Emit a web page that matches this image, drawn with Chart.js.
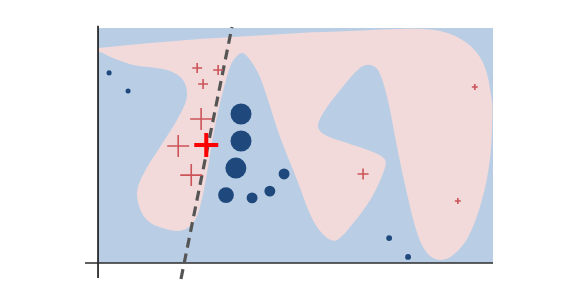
<!DOCTYPE html>
<html lang="en">

<head>
  <meta charset="UTF-8">
  <script src="https://cdn.jsdelivr.net/npm/chart.js"></script>
  <title>decision boundary</title>
  <style>
    body {
      margin: 0;
      background: #fff;
    }
  </style>
</head>

<body>
  <canvas id="myChart" width="562" height="282"></canvas>

  <script>
    // region of the class "+" (closed outline, data units 0..100)
    const regionX = [0, 13.2, 25.8, 38.5, 51.1, 63.8, 76.5, 86.6, 93.4, 97.5, 99.6, 99.8, 99.2, 97.2, 93.7, 89.9,
      86.6, 83.3, 80.8, 78.2, 75.7, 73.2, 70.9, 68.9, 66.3, 61.3, 57.0, 55.7, 57.5, 63.0, 69.6, 72.7, 72.2, 68.9,
      64.6, 60.5, 58.0, 54.4, 50.4, 46.1, 41.0, 38.5, 36.5, 34.7, 33.4, 30.9, 29.1, 27.6, 25.8, 24.1, 21.5, 18.2,
      12.4, 9.9, 11.1, 15.7, 20.0, 22.5, 21.5, 17.5, 8.9, 3.8, 0.5, 0];
    const regionY = [91.5, 93.6, 95.3, 96.6, 97.9, 98.7, 99.6, 98.7, 93.6, 85.1, 70.6, 60.9, 43.8, 26.8, 11.1, 3.4,
      1.3, 4.3, 12.8, 29.8, 49.4, 70.6, 82.1, 84.3, 83.0, 73.6, 63.8, 57.9, 54.5, 51.1, 47.2, 43.8, 38.3, 26.8,
      17.0, 9.8, 10.6, 18.3, 35.3, 53.6, 79.1, 86.4, 89.4, 87.2, 83.4, 68.1, 53.6, 38.3, 23.8, 17.0, 14.0, 14.0,
      18.3, 28.1, 36.6, 49.4, 60.9, 70.6, 77.9, 82.1, 84.3, 87.2, 89.8, 89.2];

    // class "o" points and their weights
    const blueX = [2.8, 7.6, 36.2, 36.2, 34.9, 32.4, 39.0, 43.5, 47.1, 73.7, 78.5];
    const blueY = [80.9, 73.2, 63.4, 51.9, 40.4, 28.9, 27.7, 30.6, 37.9, 10.6, 2.6];
    const blueW = [0.24, 0.24, 1, 1, 1, 0.75, 0.52, 0.52, 0.52, 0.28, 0.28];

    // class "+" points and their weights
    const redX = [25.1, 30.4, 26.6, 26.1, 20.3, 23.6, 67.1, 95.4, 91.1];
    const redY = [83.0, 82.1, 76.2, 61.3, 49.8, 37.4, 37.9, 74.9, 26.4];
    const redW = [0.45, 0.45, 0.45, 1, 1, 1, 0.5, 0.27, 0.27];

    // the highlighted point
    const hiX = [27.4];
    const hiY = [50.2];

    // separating line
    const lineX = [21.0, 33.9];
    const lineY = [-6.8, 100.4];

    // axes
    const axisX = [-3.3, 100];
    const axisY = [-6.4, 101];

    const pts = (xs, ys) => xs.map((x, i) => ({ x: x, y: ys[i] }));

    const ctx = document.getElementById('myChart').getContext('2d');
    const myChart = new Chart(ctx, {
      type: 'scatter',
      data: {
        datasets: [
          {
            data: pts(hiX, hiY),
            pointStyle: 'cross',
            pointRadius: 12,
            pointBorderWidth: 4,
            borderColor: '#ff0000',
            backgroundColor: '#ff0000'
          },
          {
            data: pts(redX, redY),
            pointStyle: 'cross',
            pointRadius: redW.map(w => 11 * w),
            pointBorderWidth: 1.6,
            borderColor: '#cc5459',
            backgroundColor: '#cc5459'
          },
          {
            data: pts(blueX, blueY),
            pointRadius: blueW.map(w => 10.5 * w),
            pointBorderWidth: 0,
            backgroundColor: '#1f497d',
            borderColor: '#1f497d'
          },
          {
            data: pts(lineX, lineY),
            showLine: true,
            pointRadius: 0,
            borderColor: '#555555',
            borderWidth: 3.2,
            borderDash: [10, 6]
          },
          {
            data: [{ x: axisX[0], y: 0 }, { x: axisX[1], y: 0 }],
            showLine: true,
            pointRadius: 0,
            borderColor: '#2b2b2b',
            borderWidth: 1.6
          },
          {
            data: [{ x: 0, y: axisY[0] }, { x: 0, y: axisY[1] }],
            showLine: true,
            pointRadius: 0,
            borderColor: '#111111',
            borderWidth: 1.6
          },
          {
            data: pts(regionX, regionY),
            showLine: true,
            pointRadius: 0,
            borderWidth: 0,
            borderColor: 'rgba(0,0,0,0)',
            backgroundColor: '#f2dadb',
            tension: 0.35,
            fill: 'shape'
          },
          {
            data: [{ x: 0, y: 0 }, { x: 100, y: 0 }, { x: 100, y: 100 }, { x: 0, y: 100 }],
            showLine: true,
            pointRadius: 0,
            borderWidth: 0,
            borderColor: 'rgba(0,0,0,0)',
            backgroundColor: '#b9cee5',
            fill: 'shape'
          }
        ]
      },
      options: {
        responsive: false,
        animation: false,
        layout: {
          autoPadding: false,
          padding: { left: 85, right: 69, top: 24, bottom: 2 }
        },
        plugins: {
          legend: { display: false },
          tooltip: { enabled: false }
        },
        scales: {
          x: { type: 'linear', min: -3.3, max: 100, display: false },
          y: { type: 'linear', min: -7.23, max: 101.7, display: false }
        }
      }
    });
  </script>
</body>

</html>
